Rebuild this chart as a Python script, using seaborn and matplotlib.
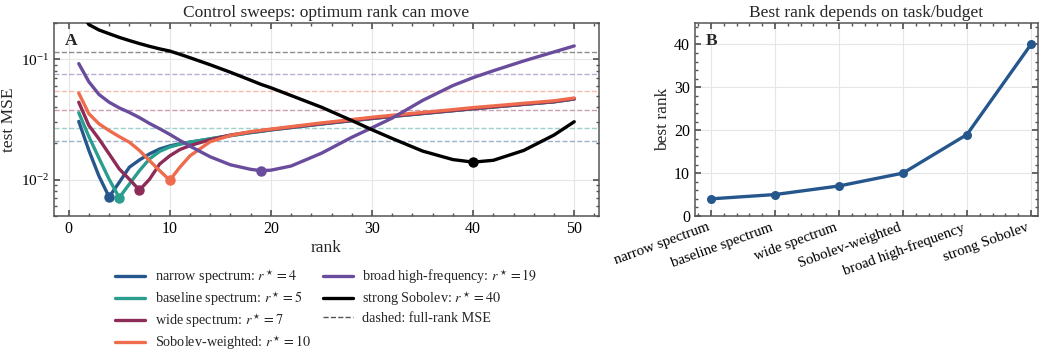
import numpy as np
import pandas as pd
import matplotlib
matplotlib.use("Agg")
import matplotlib.pyplot as plt
from matplotlib.ticker import AutoMinorLocator
import seaborn as sns

# ---------------- data ----------------
ranks = [1, 2, 3, 4, 5, 6, 7, 8, 9, 10, 11, 12, 14, 16, 18, 19, 20, 22, 25, 28,
         30, 32, 35, 38, 40, 42, 45, 48, 50]

narrow = [0.0305, 0.0175, 0.0107, 0.0072, 0.0095, 0.0127, 0.0146, 0.0164, 0.0180,
          0.0191, 0.0199, 0.0205, 0.0218, 0.0232, 0.0246, 0.0252, 0.0259, 0.0271,
          0.0290, 0.0309, 0.0322, 0.0335, 0.0354, 0.0374, 0.0388, 0.0401, 0.0422,
          0.0443, 0.0468]
baseline = [0.0360, 0.0228, 0.0151, 0.0101, 0.0071, 0.0092, 0.0119, 0.0149, 0.0172,
            0.0187, 0.0197, 0.0205, 0.0219, 0.0233, 0.0247, 0.0253, 0.0260, 0.0272,
            0.0291, 0.0310, 0.0323, 0.0336, 0.0355, 0.0375, 0.0389, 0.0402, 0.0423,
            0.0444, 0.0469]
wide = [0.0440, 0.0282, 0.0218, 0.0164, 0.0123, 0.0101, 0.0082, 0.0101, 0.0135,
        0.0158, 0.0178, 0.0192, 0.0215, 0.0235, 0.0249, 0.0255, 0.0261, 0.0273,
        0.0292, 0.0311, 0.0324, 0.0337, 0.0356, 0.0376, 0.0390, 0.0403, 0.0424,
        0.0445, 0.0470]
sobolev_w = [0.0523, 0.0353, 0.0291, 0.0256, 0.0228, 0.0205, 0.0175, 0.0144, 0.0119,
             0.0099, 0.0127, 0.0158, 0.0207, 0.0233, 0.0251, 0.0257, 0.0263, 0.0276,
             0.0296, 0.0316, 0.0330, 0.0343, 0.0362, 0.0382, 0.0397, 0.0410, 0.0431,
             0.0452, 0.0477]
broad = [0.092, 0.065, 0.051, 0.044, 0.0395, 0.0362, 0.0328, 0.0293, 0.0265,
         0.0238, 0.0212, 0.0190, 0.0155, 0.0133, 0.0122, 0.0119, 0.0120, 0.0130,
         0.0166, 0.0225, 0.0270, 0.0325, 0.0455, 0.0605, 0.0704, 0.0803, 0.0968,
         0.115, 0.129]
strong = [0.265, 0.194, 0.175, 0.163, 0.152, 0.143, 0.135, 0.128, 0.122, 0.117,
          0.110, 0.103, 0.090, 0.078, 0.067, 0.062, 0.058, 0.050, 0.040, 0.0310,
          0.0260, 0.0220, 0.0173, 0.0147, 0.0140, 0.0145, 0.0175, 0.0235, 0.0303]

series_names = ["narrow spectrum", "baseline spectrum", "wide spectrum",
                "Sobolev-weighted", "broad high-frequency", "strong Sobolev"]
series_values = [narrow, baseline, wide, sobolev_w, broad, strong]
best_ranks = [4, 5, 7, 10, 19, 40]
full_rank_mse = [0.021, 0.0268, 0.0381, 0.0548, 0.075, 0.115]
colors = ["#26578c", "#2a9d8f", "#8e2c58", "#ee6c4d", "#6a4c9c", "#000000"]

# ---------------- style ----------------
sns.set_theme(style="ticks")
plt.rcParams.update({
    "font.family": ["Liberation Serif", "DejaVu Serif"],
    "mathtext.fontset": "stix",
    "axes.edgecolor": "#555555",
    "axes.linewidth": 1.1,
    "xtick.color": "#555555",
    "ytick.color": "#555555",
    "xtick.labelcolor": "black",
    "ytick.labelcolor": "black",
    "xtick.direction": "in",
    "ytick.direction": "in",
    "xtick.top": True,
    "ytick.right": True,
    "xtick.major.size": 4,
    "ytick.major.size": 4,
    "xtick.minor.size": 2,
    "ytick.minor.size": 2,
    "xtick.minor.visible": True,
    "ytick.minor.visible": True,
    "xtick.labelsize": 11.5,
    "ytick.labelsize": 11.5,
    "axes.grid": True,
    "grid.color": "#e6e6e6",
    "grid.linewidth": 0.8,
    "font.size": 11,
})

fig = plt.figure(figsize=(10.4, 3.51), dpi=100)
W, H = 1040, 351
ax = fig.add_axes([54 / W, 1 - 216 / H, (599 - 54) / W, (216 - 23) / H])
ax2 = fig.add_axes([695 / W, 1 - 216 / H, (1038 - 695) / W, (216 - 23) / H])

# ---------------- panel A ----------------
rows = []
for name, vals in zip(series_names, series_values):
    for r, v in zip(ranks, vals):
        rows.append({"rank": r, "mse": v, "task": name})
df = pd.DataFrame(rows)

for name, vals, c, br, fr in zip(series_names, series_values, colors, best_ranks, full_rank_mse):
    sub = df[df["task"] == name]
    sns.lineplot(data=sub, x="rank", y="mse", ax=ax, color=c, lw=2.4,
                 label=f"{name}: $r^\\star={br}$", zorder=3)
    ax.axhline(fr, color=c, ls="--", lw=1.0, alpha=0.45, zorder=2)
    bv = sub.loc[sub["rank"] == br, "mse"].values
    ax.plot([br], bv, "o", color=c, ms=6.5, zorder=4)

ax.plot([], [], ls="--", color="#555555", lw=1.0, label="dashed: full-rank MSE")

ax.set_yscale("log")
ax.set_ylim(0.005, 0.2)
ax.set_xlim(-1.45, 52.45)
ax.xaxis.set_minor_locator(AutoMinorLocator(5))
ax.set_xticks([0, 10, 20, 30, 40, 50])
ax.tick_params(axis="y", labelsize=11)
ax.set_xlabel("rank", fontsize=12.5, labelpad=2)
ax.set_ylabel("test MSE", fontsize=12.5, labelpad=3)
ax.set_title("Control sweeps: optimum rank can move", fontsize=12.5, pad=4)
ax.text(0.02, 0.95, "A", transform=ax.transAxes, fontsize=12.5, fontweight="bold",
        va="top", ha="left")
ax.grid(True, which="major")
ax.grid(False, which="minor")
leg = ax.legend(loc="upper center", bbox_to_anchor=(0.5, -0.205), ncol=2,
                frameon=False, fontsize=10.2, handlelength=2.1, columnspacing=0.8,
                labelspacing=0.26, handletextpad=0.7)

# ---------------- panel B ----------------
pos = np.arange(len(series_names))
dfb = pd.DataFrame({"pos": pos, "best": best_ranks})
sns.lineplot(data=dfb, x="pos", y="best", ax=ax2, color="#26578c", lw=2.4,
             marker="o", markersize=6.5, markeredgewidth=0)
ax2.set_xticks(pos)
ax2.set_xticklabels(series_names, rotation=20, ha="right", fontsize=10.7)
ax2.xaxis.set_minor_locator(AutoMinorLocator(5))
ax2.yaxis.set_minor_locator(AutoMinorLocator(5))
ax2.set_xlim(-0.25, 5.11)
ax2.set_ylim(0, 45)
ax2.set_yticks([0, 10, 20, 30, 40])
ax2.set_xlabel("")
ax2.set_ylabel("best rank", fontsize=12.5, labelpad=2)
ax2.set_title("Best rank depends on task/budget", fontsize=12.5, pad=4)
ax2.text(0.03, 0.95, "B", transform=ax2.transAxes, fontsize=12.5, fontweight="bold",
         va="top", ha="left")
ax2.grid(True, which="major")
ax2.grid(False, which="minor")

fig.savefig("out.png", dpi=100)
